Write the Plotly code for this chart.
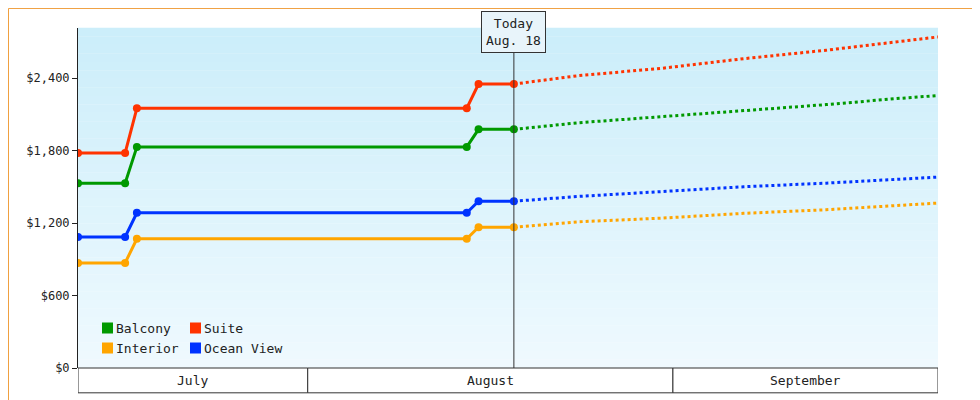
import plotly.graph_objects as go
from datetime import datetime

hist_dates = ["2024-07-12 12:00", "2024-07-16 12:00", "2024-07-17 12:00", "2024-08-14 12:00", "2024-08-15 12:00", "2024-08-18 12:00"]
fc_dates = ["2024-08-18 12:00", "2024-08-24", "2024-08-31", "2024-09-07", "2024-09-14", "2024-09-20", "2024-09-23 12:00"]
series = {
    "Suite": ([1780, 1780, 2150, 2150, 2350, 2350], [2350, 2420, 2480, 2560, 2630, 2700, 2740], "#ff3300"),
    "Balcony": ([1530, 1530, 1830, 1830, 1975, 1975], [1975, 2030, 2080, 2130, 2180, 2230, 2255], "#009900"),
    "Ocean View": ([1085, 1085, 1285, 1285, 1380, 1380], [1380, 1420, 1460, 1500, 1530, 1565, 1580], "#0033ff"),
    "Interior": ([870, 870, 1070, 1070, 1165, 1165], [1165, 1210, 1240, 1280, 1310, 1345, 1365], "#ffa500"),
}
yticks = [0, 600, 1200, 1800, 2400]
ytick_text = ["$0", "$600", "$1,200", "$1,800", "$2,400"]
months = [("July", "2024-07-12 12:00", "2024-08-01"), ("August", "2024-08-01", "2024-09-01"), ("September", "2024-09-01", "2024-09-23 12:00")]
legend_order = [("Balcony", 0, 0), ("Suite", 1, 0), ("Interior", 0, 1), ("Ocean View", 1, 1)]

fig = go.Figure()
for name, (h, f, c) in series.items():
    fig.add_trace(go.Scatter(x=fc_dates, y=f, mode="lines", line=dict(color=c, width=3, dash="dot"), showlegend=False))
    fig.add_trace(go.Scatter(x=hist_dates, y=h, mode="lines+markers", line=dict(color=c, width=3), marker=dict(size=8, color=c), name=name, showlegend=False))

shapes = []
N = 40
for i in range(N):
    t = i / N
    r = int(204 + (240 - 204) * t); g = int(238 + (250 - 238) * t); b = int(250 + (255 - 250) * t)
    shapes.append(dict(type="rect", xref="paper", yref="paper", x0=0, x1=1, y0=1 - (i + 1) / N, y1=1 - i / N + 0.001,
                       fillcolor=f"rgb({r},{g},{b})", line=dict(width=0), layer="below"))
shapes.append(dict(type="rect", xref="paper", yref="paper", x0=-0.0808, x1=1.0576, y0=-0.116, y1=1.0574, line=dict(color="#f0a040", width=1)))
annotations = []
for label, a, b in months:
    shapes.append(dict(type="rect", xref="x", yref="paper", x0=a, x1=b, y0=-0.073, y1=0, line=dict(color="#333", width=1), fillcolor="white"))
    ma = datetime.fromisoformat(a); mb = datetime.fromisoformat(b)
    annotations.append(dict(x=ma + (mb - ma) / 2, y=-0.037, xref="x", yref="paper", yanchor="middle", text=label, showarrow=False, font=dict(size=13)))
shapes.append(dict(type="line", xref="x", yref="paper", x0="2024-08-18 12:00", x1="2024-08-18 12:00", y0=0, y1=0.93, line=dict(color="#333", width=1)))
annotations.append(dict(x="2024-08-18 12:00", y=0.925, xref="x", yref="paper", yanchor="bottom", text="Today<br>Aug. 18", showarrow=False,
                        bgcolor="#e8f4fa", bordercolor="#333", borderwidth=1, borderpad=4, font=dict(size=13)))
for name, col, row in legend_order:
    c = series[name][2]
    x0 = 24 / 860 + col * 88 / 860
    y0 = (360 - 320 - row * 20) / 340
    shapes.append(dict(type="rect", xref="paper", yref="paper", x0=x0, x1=x0 + 11 / 860, y0=y0 - 5.5 / 340, y1=y0 + 5.5 / 340, fillcolor=c, line=dict(width=0)))
    annotations.append(dict(x=x0 + 12 / 860, y=y0, xref="paper", yref="paper", xanchor="left", yanchor="middle", text=name, showarrow=False, font=dict(size=13)))

fig.update_layout(
    width=980, height=400, margin=dict(l=70, r=50, t=20, b=40, autoexpand=False),
    paper_bgcolor="white", plot_bgcolor="rgba(0,0,0,0)",
    font=dict(family="DejaVu Sans Mono", size=12, color="#222"),
    shapes=shapes, annotations=annotations, showlegend=False,
    xaxis=dict(range=["2024-07-12 12:00", "2024-09-23 12:00"], showticklabels=False, showgrid=False, zeroline=False, automargin=False),
    yaxis=dict(range=[0, 2814], tickvals=yticks, ticktext=ytick_text, showgrid=False, zeroline=False, automargin=False,
               showline=True, linecolor="#222", linewidth=1, ticks="outside", ticklen=5, tickcolor="#222"),
)
fig.write_html("out.html")
